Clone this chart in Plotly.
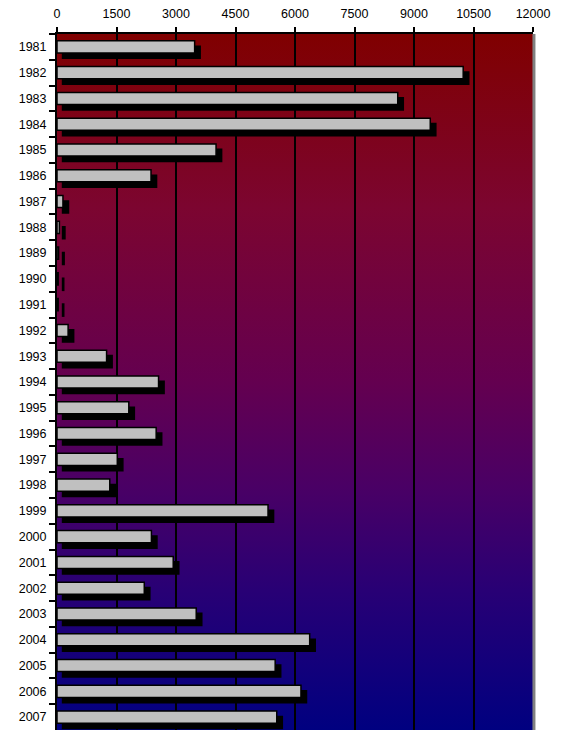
import base64
import plotly.graph_objects as go

# Yearly totals, 1981-2007
years = [str(y) for y in range(1981, 2008)]
values = [
    3470, 10240, 8590, 9410, 4010, 2370, 150, 60, 40, 30, 30, 280, 1250,
    2560, 1810, 2500, 1520, 1330, 5320, 2380, 2930, 2200, 3510, 6370,
    5500, 6150, 5540,
]
x_ticks = list(range(0, 12001, 1500))

# Shadow geometry (x shift in data units, y shift in category units)
shadow_dx = 140
bar_w = 0.47
shadow_dy = 0.21

# Vertical maroon-to-navy background gradient as an SVG image
gradient_stops = [
    (0.00, "#800000"),
    (0.25, "#7c0530"),
    (0.50, "#640050"),
    (0.65, "#4a0065"),
    (0.80, "#280075"),
    (1.00, "#000080"),
]
stops_svg = "".join(
    f'<stop offset="{o}" stop-color="{c}"/>' for o, c in gradient_stops
)
svg = (
    '<svg xmlns="http://www.w3.org/2000/svg" width="10" height="100" '
    'preserveAspectRatio="none">'
    f'<defs><linearGradient id="g" x1="0" y1="0" x2="0" y2="1">{stops_svg}'
    '</linearGradient></defs>'
    '<rect width="10" height="100" fill="url(#g)"/></svg>'
)
bg_uri = "data:image/svg+xml;base64," + base64.b64encode(svg.encode()).decode()

fig = go.Figure()

# Drop shadow behind each bar
fig.add_trace(go.Bar(
    y=years, x=values, base=shadow_dx, orientation="h",
    width=bar_w, offset=-bar_w / 2 + shadow_dy,
    marker=dict(color="#000000", line=dict(color="#000000", width=1.5)),
    hoverinfo="skip", showlegend=False,
))

# Main grey bars
fig.add_trace(go.Bar(
    y=years, x=values, orientation="h",
    width=bar_w, offset=-bar_w / 2,
    marker=dict(color="#c0c0c0", line=dict(color="#000000", width=1.5)),
    hoverinfo="skip", showlegend=False,
))

fig.update_layout(
    width=568, height=730,
    margin=dict(l=57, r=35, t=34, b=0),
    paper_bgcolor="#ffffff",
    plot_bgcolor="rgba(0,0,0,0)",
    barmode="overlay",
    font=dict(family="Liberation Sans, Arial, sans-serif", size=12.5,
              color="#000000"),
    images=[dict(
        source=bg_uri, xref="paper", yref="paper",
        x=0, y=1, sizex=1, sizey=1, sizing="stretch",
        xanchor="left", yanchor="top", layer="below",
    )],
    shapes=[dict(
        type="line", xref="paper", yref="paper",
        x0=1.002, x1=1.002, y0=0, y1=1,
        line=dict(color="#808080", width=3), layer="above",
    )],
)

fig.update_xaxes(
    side="top", range=[0, 12000],
    tickvals=x_ticks, ticktext=[str(v) for v in x_ticks],
    ticks="outside", ticklen=5, tickwidth=2, tickcolor="#000000",
    ticklabelstandoff=4,
    showgrid=True, gridcolor="#000000", gridwidth=2,
    showline=True, linecolor="#000000", linewidth=2,
    zeroline=False, fixedrange=True,
)
fig.update_yaxes(
    type="category", categoryorder="array", categoryarray=years,
    range=[len(years) - 0.5, -0.5],
    tickson="boundaries", ticks="outside", ticklen=6, tickwidth=2,
    tickcolor="#000000", ticklabelstandoff=6,
    showgrid=False, showline=True, linecolor="#000000", linewidth=2,
    zeroline=False, fixedrange=True,
)

fig.write_html("out.html")
